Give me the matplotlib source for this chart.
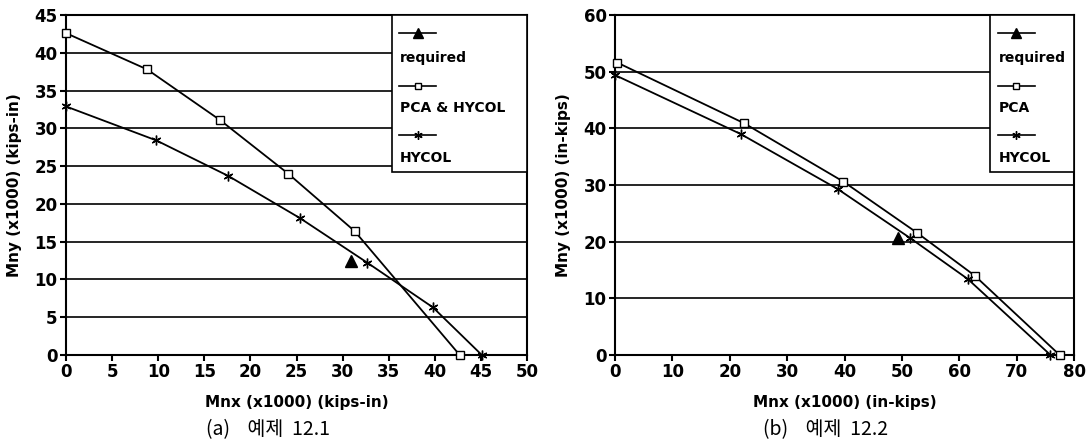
import numpy as np
from matplotlib import pyplot as plt
from matplotlib.patches import Rectangle
from matplotlib.lines import Line2D

# (a) example 12.1
a_pca_x = [0, 8.8, 16.7, 24.1, 31.3, 42.7]
a_pca_y = [42.6, 37.8, 31.1, 24.0, 16.4, 0]
a_hycol_x = [0, 9.8, 17.6, 25.4, 32.7, 39.8, 45.1]
a_hycol_y = [32.9, 28.4, 23.7, 18.1, 12.2, 6.3, 0]
a_req_x = [30.9]
a_req_y = [12.4]
a_labels = ['required', 'PCA & HYCOL', 'HYCOL']

# (b) example 12.2
b_pca_x = [0.4, 22.5, 39.8, 52.6, 62.7, 77.5]
b_pca_y = [51.6, 40.9, 30.6, 21.6, 14.0, 0]
b_hycol_x = [0, 21.9, 38.8, 51.5, 61.5, 75.9]
b_hycol_y = [49.4, 39.0, 29.3, 20.6, 13.4, 0]
b_req_x = [49.4]
b_req_y = [20.6]
b_labels = ['required', 'PCA', 'HYCOL']

plt.rcParams['font.family'] = ['DejaVu Sans']
plt.rcParams['font.weight'] = 'bold'

STAR = (6, 2, 0)


def draw_legend(ax, x0, y_bottom, hx, labels):
    ax.add_patch(Rectangle((x0, y_bottom), 1 - x0, 1 - y_bottom, transform=ax.transAxes,
                           facecolor='white', edgecolor='black', lw=1.2, zorder=5, clip_on=False))
    styles = [dict(marker='^', ms=7, mfc='black'),
              dict(marker='s', ms=5, mfc='white'),
              dict(marker=STAR, ms=6, mfc='black')]
    rows = [(0.947, 0.874), (0.791, 0.726), (0.647, 0.579)]
    for st, lab, (yh, yt) in zip(styles, labels, rows):
        xs = [hx[0], (hx[0] + hx[1]) / 2, hx[1]]
        ax.add_line(Line2D(xs, [yh] * 3, transform=ax.transAxes, color='black', lw=1.2,
                           markevery=[1], zorder=6, clip_on=False, mec='black', **st))
        ax.text(hx[0] + 0.002, yt, lab, transform=ax.transAxes, fontsize=10, fontweight='bold',
                va='center', ha='left', zorder=7)


def draw_panel(ax, pca_x, pca_y, hy_x, hy_y, req_x, req_y, xmax, xstep, ymax, ystep,
               xlabel, ylabel, leg_x0, leg_hx, labels):
    ax.set_xlim(0, xmax)
    ax.set_ylim(0, ymax)
    ax.set_xticks(np.arange(0, xmax + 1, xstep))
    ax.set_yticks(np.arange(0, ymax + 1, ystep))
    ax.yaxis.grid(True, color='black', lw=1.2)
    ax.set_axisbelow(True)
    ax.plot(pca_x, pca_y, color='black', lw=1.3, marker='s', ms=6, mfc='white', mec='black', zorder=3, clip_on=False)
    ax.plot(hy_x, hy_y, color='black', lw=1.3, marker=STAR, ms=7, mec='black', zorder=3, clip_on=False)
    ax.plot(req_x, req_y, linestyle='none', marker='^', ms=8, color='black', zorder=4)
    for s in ax.spines.values():
        s.set_linewidth(1.5)
    ax.tick_params(direction='out', length=4, width=1.5, labelsize=12, pad=2)
    ax.set_xlabel(xlabel, fontsize=11, fontweight='bold', labelpad=10)
    ax.set_ylabel(ylabel, fontsize=11, fontweight='bold', labelpad=9)
    draw_legend(ax, leg_x0, 0.537, leg_hx, labels)


fig = plt.figure(figsize=(10.86, 4.44), dpi=100)
ax1 = fig.add_axes([66 / 1086, 89 / 444, 461 / 1086, 340 / 444])
ax2 = fig.add_axes([615 / 1086, 89 / 444, 459 / 1086, 340 / 444])

draw_panel(ax1, a_pca_x, a_pca_y, a_hycol_x, a_hycol_y, a_req_x, a_req_y, 50, 5, 45, 5,
           'Mnx (x1000) (kips-in)', 'Mny (x1000) (kips-in)', 0.707, [0.722, 0.803], a_labels)
draw_panel(ax2, b_pca_x, b_pca_y, b_hycol_x, b_hycol_y, b_req_x, b_req_y, 80, 10, 60, 10,
           'Mnx (x1000) (in-kips)', 'Mny (x1000) (in-kips)', 0.817, [0.834, 0.915], b_labels)

fig.text(268 / 1086, 1 - 430 / 444, '(a)    예제  12.1', fontsize=14, fontweight='normal',
         family=['Noto Sans CJK KR', 'DejaVu Sans'], ha='center', va='center')
fig.text(826 / 1086, 1 - 430 / 444, '(b)    예제  12.2', fontsize=14, fontweight='normal',
         family=['Noto Sans CJK KR', 'DejaVu Sans'], ha='center', va='center')

fig.savefig('out.png', dpi=100)
